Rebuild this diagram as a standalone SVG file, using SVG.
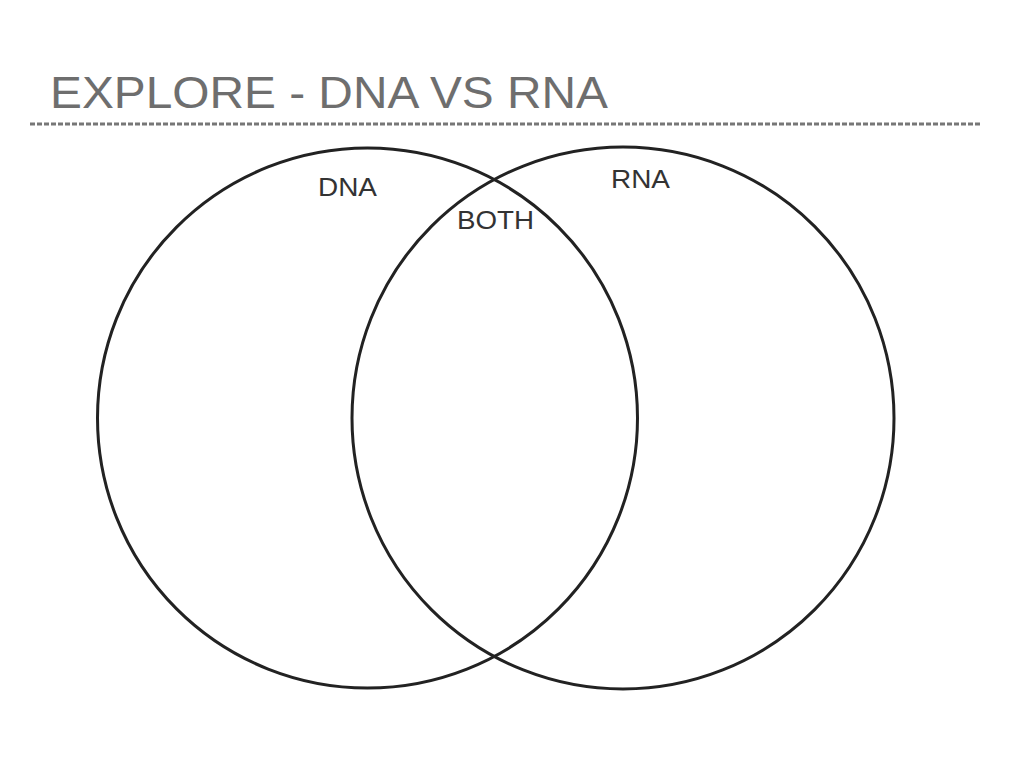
<svg xmlns="http://www.w3.org/2000/svg" width="1024" height="768" viewBox="0 0 1024 768">
<style>
.c{fill:none;stroke:#222;stroke-width:3}
.l{font-family:"Liberation Sans",Arial,sans-serif;font-size:25px;fill:#333}
</style>
<rect width="1024" height="768" fill="#fff"/>
<text x="50" y="108" font-family="Liberation Sans,Arial,sans-serif" font-size="44" fill="#6e6e6e" textLength="558" lengthAdjust="spacingAndGlyphs">EXPLORE - DNA VS RNA</text>
<line x1="30" y1="124" x2="980" y2="124" stroke="#777" stroke-width="3" stroke-dasharray="5,2"/>
<g id="dna"><circle class="c" cx="367.5" cy="418" r="270"/><text class="l" x="318" y="196" textLength="59" lengthAdjust="spacingAndGlyphs">DNA</text></g>
<g id="rna"><circle class="c" cx="623" cy="418" r="271"/><text class="l" x="611" y="188" textLength="59" lengthAdjust="spacingAndGlyphs">RNA</text></g>
<g id="both"><text class="l" x="457" y="229" textLength="77" lengthAdjust="spacingAndGlyphs">BOTH</text></g>
</svg>
